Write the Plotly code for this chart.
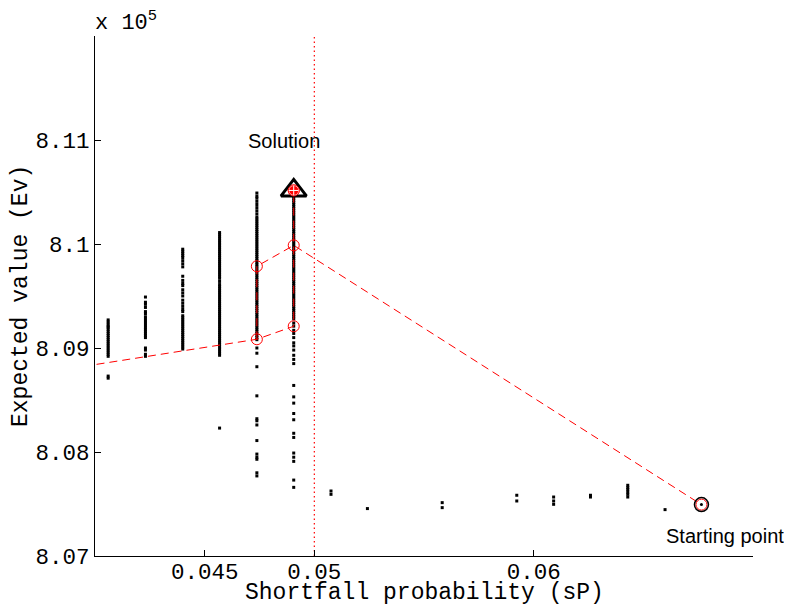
import plotly.graph_objects as go

# ---------------- data (Expected value in units of 1e5) ----------------
cluster_sp = [0.0406, 0.0423, 0.0440, 0.04568, 0.04738, 0.04906]

ev_c1 = [8.0927, 8.0925, 8.0923, 8.0921, 8.0920, 8.0918, 8.0916, 8.0914, 8.0912,
         8.0910, 8.0908, 8.0906, 8.0904, 8.0902, 8.0900, 8.0898, 8.0896, 8.0894,
         8.0892, 8.0873, 8.0871]
ev_c2 = [8.0949, 8.0944, 8.0942, 8.0939, 8.0935, 8.0933, 8.0930, 8.0928, 8.0926,
         8.0924, 8.0922, 8.0920, 8.0918, 8.0916, 8.0914, 8.0912, 8.0910, 8.0900,
         8.0898, 8.0894, 8.0892]
ev_c3 = [8.0995, 8.0993, 8.0991, 8.0989, 8.0987, 8.0984, 8.0981, 8.0978, 8.0969,
         8.0965, 8.0962, 8.0960, 8.0956, 8.0953, 8.0950, 8.0946, 8.0943, 8.0940,
         8.0937, 8.0935, 8.0931, 8.0929, 8.0927, 8.0925, 8.0923, 8.0921, 8.0919,
         8.0917, 8.0915, 8.0913, 8.0911, 8.0909, 8.0907, 8.0905, 8.0903, 8.0901,
         8.0899]
ev_c4 = [8.1011, 8.1009, 8.1007, 8.1005, 8.1003, 8.1001, 8.0999, 8.0997, 8.0995,
         8.0993, 8.0991, 8.0989, 8.0987, 8.0985, 8.0983, 8.0981, 8.0979, 8.0977,
         8.0975, 8.0973, 8.0971, 8.0969, 8.0967, 8.0964, 8.0961, 8.0959, 8.0957,
         8.0955, 8.0953, 8.0951, 8.0949, 8.0947, 8.0945, 8.0943, 8.0941, 8.0939,
         8.0937, 8.0935, 8.0933, 8.0931, 8.0929, 8.0927, 8.0925, 8.0923, 8.0921,
         8.0919, 8.0917, 8.0915, 8.0913, 8.0911, 8.0909, 8.0907, 8.0905, 8.0903,
         8.0901, 8.0899, 8.0897, 8.0895, 8.0893, 8.0823]
ev_c5 = [8.1049, 8.1046, 8.1044, 8.1041, 8.1038, 8.1035, 8.1032, 8.1029, 8.1026,
         8.1024, 8.1022, 8.1020, 8.1018, 8.1016, 8.1014, 8.1012, 8.1010, 8.1008,
         8.1006, 8.1004, 8.1002, 8.1000, 8.0998, 8.0996, 8.0994, 8.0992, 8.0990,
         8.0988, 8.0986, 8.0984, 8.0982, 8.0980, 8.0978, 8.0976, 8.0974, 8.0972,
         8.0970, 8.0968, 8.0966, 8.0964, 8.0962, 8.0960, 8.0958, 8.0956, 8.0954,
         8.0952, 8.0950, 8.0948, 8.0946, 8.0944, 8.0942, 8.0940, 8.0938, 8.0936,
         8.0934, 8.0932, 8.0930, 8.0928, 8.0926, 8.0924, 8.0922, 8.0920, 8.0918,
         8.0916, 8.0914, 8.0912, 8.0910, 8.0908, 8.0900, 8.0895, 8.0882, 8.0854,
         8.0832, 8.0830, 8.0826, 8.0811, 8.0798, 8.0795, 8.0793, 8.0780, 8.0777]
ev_c6 = [8.1052, 8.1050, 8.1048, 8.1046, 8.1044, 8.1042, 8.1040, 8.1038, 8.1036,
         8.1034, 8.1032, 8.1030, 8.1028, 8.1026, 8.1024, 8.1022, 8.1020, 8.1018,
         8.1016, 8.1014, 8.1012, 8.1010, 8.1008, 8.1006, 8.1004, 8.1002, 8.1000,
         8.0998, 8.0996, 8.0994, 8.0992, 8.0990, 8.0988, 8.0986, 8.0984, 8.0982,
         8.0980, 8.0978, 8.0976, 8.0974, 8.0972, 8.0970, 8.0968, 8.0966, 8.0964,
         8.0962, 8.0960, 8.0958, 8.0956, 8.0954, 8.0952, 8.0950, 8.0948, 8.0946,
         8.0944, 8.0942, 8.0940, 8.0938, 8.0936, 8.0934, 8.0932, 8.0930, 8.0928,
         8.0924, 8.0921, 8.0917, 8.0914, 8.0910, 8.0905, 8.0902, 8.0898, 8.0893,
         8.0889, 8.0885, 8.0864, 8.0853, 8.0847, 8.0837, 8.0831, 8.0818, 8.0814,
         8.0799, 8.0795, 8.0791, 8.0773, 8.0766]

# scattered points to the right of the 0.05 limit
right_sp = [0.05076, 0.05076, 0.05242, 0.05583, 0.05583, 0.05923, 0.05923,
            0.06091, 0.06091, 0.06091, 0.06259, 0.06259,
            0.06429, 0.06429, 0.06429, 0.06429, 0.06429, 0.06429, 0.06599]
right_ev = [8.07625, 8.07593, 8.07456, 8.07513, 8.07465, 8.07584, 8.07529,
            8.07567, 8.07529, 8.07497, 8.07584, 8.07567,
            8.07680, 8.07658, 8.07638, 8.07615, 8.07593, 8.07567, 8.07446]

# search path (two dashed branches, separated by None)
path_sp = [0.0389, 0.04738, 0.04906, 0.04906, None, 0.04738, 0.04738, 0.04906, 0.06765]
path_ev = [8.08804, 8.09084, 8.09209, 8.10515, None, 8.09084, 8.09786, 8.09987, 8.07494]

# visited iterates (red circles)
iter_sp = [0.04738, 0.04906, 0.04738, 0.04906, 0.04906, 0.06765]
iter_ev = [8.09786, 8.09987, 8.09084, 8.09209, 8.10515, 8.07494]

solution_sp, solution_ev = 0.04906, 8.10515
start_sp, start_ev = 0.06765, 8.07494
sp_limit = 0.05

x_range = [0.04, 0.07]
y_range = [8.07, 8.12]
x_ticks = [0.045, 0.05, 0.06]
x_ticktext = ["0.045", "0.05", "0.06"]
y_ticks = [8.07, 8.08, 8.09, 8.10, 8.11]
y_ticktext = ["8.07", "8.08", "8.09", "8.1", "8.11"]

# ---------------- figure ----------------
clusters = [ev_c1, ev_c2, ev_c3, ev_c4, ev_c5, ev_c6]
cloud_x, cloud_y = [], []
for sp, evs in zip(cluster_sp, clusters):
    cloud_x += [sp] * len(evs)
    cloud_y += evs
cloud_x += right_sp
cloud_y += right_ev

mono = "Liberation Mono, Courier New, monospace"
sans = "Liberation Sans, Arial, sans-serif"

# the page body adds an 8 px offset; the figure is sized to fill the rest
W, H = 784, 600
ML, MR, MT, MB = 87, 39, 28, 52

fig = go.Figure()

# dotted limit line
fig.add_trace(go.Scatter(x=[sp_limit, sp_limit], y=y_range, mode="lines",
                         line=dict(color="#ff0000", width=1.2, dash="1.5px,3px"),
                         hoverinfo="skip", showlegend=False))

fig.add_trace(go.Scatter(x=cloud_x, y=cloud_y, mode="markers",
                         marker=dict(color="black", size=3, symbol="square",
                                     line=dict(width=0)),
                         showlegend=False))

fig.add_trace(go.Scatter(x=path_sp, y=path_ev, mode="lines", connectgaps=False,
                         line=dict(color="#ff0000", width=1, dash="8px,5px"),
                         showlegend=False))

fig.add_trace(go.Scatter(x=iter_sp, y=iter_ev, mode="markers",
                         marker=dict(symbol="circle-open", size=11, color="#ff0000",
                                     line=dict(width=1, color="#ff0000")),
                         showlegend=False))

# solution marker
fig.add_trace(go.Scatter(x=[solution_sp], y=[solution_ev], mode="markers",
                         marker=dict(symbol="triangle-up-open", size=22, color="black",
                                     line=dict(width=3, color="black")),
                         showlegend=False))
fig.add_trace(go.Scatter(x=[solution_sp], y=[solution_ev], mode="markers",
                         marker=dict(symbol="circle-cross", size=10, color="#ff0000",
                                     line=dict(width=1, color="white")),
                         showlegend=False))
fig.add_trace(go.Scatter(x=[solution_sp], y=[solution_ev], mode="markers",
                         marker=dict(symbol="circle-open", size=11, color="#ff0000",
                                     line=dict(width=1, color="#ff0000")),
                         showlegend=False))

# starting point marker
fig.add_trace(go.Scatter(x=[start_sp], y=[start_ev], mode="markers",
                         marker=dict(symbol="circle-open", size=14, color="black",
                                     line=dict(width=1.5, color="black")),
                         showlegend=False))
fig.add_trace(go.Scatter(x=[start_sp], y=[start_ev], mode="markers",
                         marker=dict(symbol="circle", size=3, color="black"),
                         showlegend=False))

fig.add_annotation(x=0.048636, y=8.10987, text="Solution", showarrow=False,
                   font=dict(family=sans, size=20, color="black"))
fig.add_annotation(x=0.068727, y=8.07192, text="Starting point", showarrow=False,
                   font=dict(family=sans, size=20, color="black"))
fig.add_annotation(x=0, y=1, xref="paper", yref="paper", xanchor="left", yanchor="bottom",
                   text="x 10<sup>5</sup>", showarrow=False, yshift=-2, xshift=-2,
                   font=dict(family=mono, size=22, color="black"))

plot_w = W - ML - MR
plot_h = H - MT - MB
# axis titles (positions given in page pixels, converted to paper coords)
fig.add_annotation(x=0.5, y=(H - MB - (593 - 8)) / plot_h, xref="paper", yref="paper",
                   yanchor="middle", text="Shortfall probability (sP)", showarrow=False,
                   font=dict(family=mono, size=23, color="black"))
fig.add_annotation(x=((21 - 8) - ML) / plot_w, y=0.5, xref="paper", yref="paper",
                   xanchor="center", text="Expected value (Ev)", showarrow=False,
                   textangle=-90, font=dict(family=mono, size=23, color="black"))

fig.update_layout(
    width=W, height=H,
    margin=dict(l=ML, r=MR, t=MT, b=MB),
    paper_bgcolor="white", plot_bgcolor="white",
    showlegend=False,
    xaxis=dict(range=x_range, tickvals=x_ticks, ticktext=x_ticktext,
               ticks="inside", ticklen=6, tickcolor="black", tickwidth=1,
               showline=True, linecolor="black", linewidth=1, mirror=False,
               showgrid=False, zeroline=False, automargin=False,
               ticklabelstandoff=-5,
               tickfont=dict(family=mono, size=22.5, color="black")),
    yaxis=dict(range=y_range, tickvals=y_ticks, ticktext=y_ticktext,
               ticks="inside", ticklen=6, tickcolor="black", tickwidth=1,
               showline=True, linecolor="black", linewidth=1, mirror=False,
               showgrid=False, zeroline=False, automargin=False,
               tickfont=dict(family=mono, size=22.5, color="black")),
)

fig.write_html("out.html")
